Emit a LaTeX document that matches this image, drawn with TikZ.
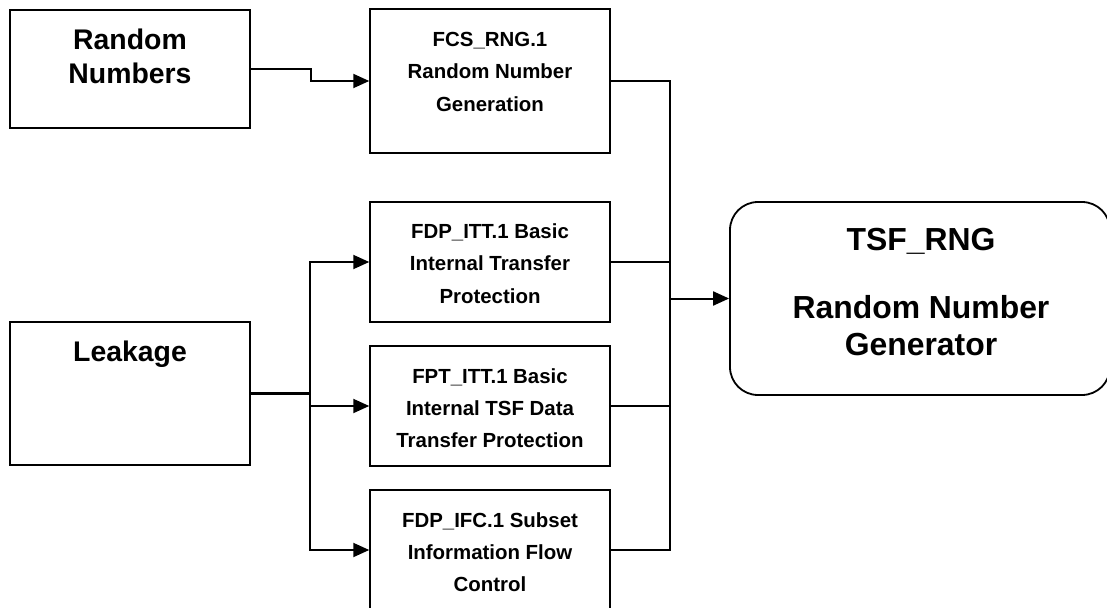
\documentclass[tikz,border=0pt]{standalone}
\usepackage{fontspec}
\setmainfont{Liberation Sans}
\usetikzlibrary{arrows.meta}
\begin{document}
\begin{tikzpicture}[x=1bp,y=-1bp,
  box/.style={draw,line width=1.5bp,minimum width=240bp,inner sep=0pt},
  lbl/.style={anchor=north,align=center,inner sep=0pt,font=\bfseries\fontsize{20.5}{32.5}\selectfont},
  biglbl/.style={anchor=north,align=center,inner sep=0pt,font=\bfseries\fontsize{28.5}{34}\selectfont},
  hugelbl/.style={anchor=north,align=center,inner sep=0pt,font=\bfseries\fontsize{32}{37}\selectfont},
  conn/.style={line width=2bp},
  arr/.style={conn,-{Triangle[length=16bp,width=14bp]}}]
\useasboundingbox (0,0) rectangle (1107,608);

% boxes
\node[box,minimum height=118bp] (rn) at (130,69) {};
\node[box,minimum height=143bp] (leak) at (130,393.5) {};
\node[box,minimum height=144bp] (fcs) at (490,81) {};
\node[box,minimum height=120bp] (itt) at (490,262) {};
\node[box,minimum height=120bp] (fpt) at (490,406) {};
\node[box,minimum height=120bp] (ifc) at (490,550) {};
\node[draw,line width=1.8bp,rounded corners=28bp,minimum width=380bp,minimum height=193bp,inner sep=0pt] (tsf) at (920,298.5) {};

% labels
\node[biglbl] (rnt) at (130,29) {Random\\Numbers};
\node[biglbl] (leakt) at (130,341) {Leakage};
\node[lbl] (fcst) at (490,32) {FCS\_RNG.1\\Random Number\\Generation};
\node[lbl] (ittt) at (490,223.5) {FDP\_ITT.1 Basic\\Internal Transfer\\Protection};
\node[lbl] (fptt) at (490,368) {FPT\_ITT.1 Basic\\Internal TSF Data\\Transfer Protection};
\node[lbl] (ifct) at (490,512) {FDP\_IFC.1 Subset\\Information Flow\\Control};
\node[hugelbl] (tsft) at (921,227.6) {TSF\_RNG\\[32bp]Random Number\\Generator};

% junctions
\coordinate (jl) at (310,393.5);
\coordinate (jr) at (670,298.5);

% connectors
\draw[arr] (rn.east) -- ++(60,0) |- (fcs.west);
\draw[conn,line width=3bp] (leak.east) -- (jl);
\draw[arr] (jl) |- (itt.west);
\draw[arr] (jl) |- (fpt.west);
\draw[arr] (jl) |- (ifc.west);
\draw[conn] (fcs.east) -| (jr);
\draw[conn] (itt.east) -| (jr);
\draw[conn] (fpt.east) -| (jr);
\draw[conn] (ifc.east) -| (jr);
\draw[arr] (jr) -- (tsf.west);
\end{tikzpicture}
\end{document}
